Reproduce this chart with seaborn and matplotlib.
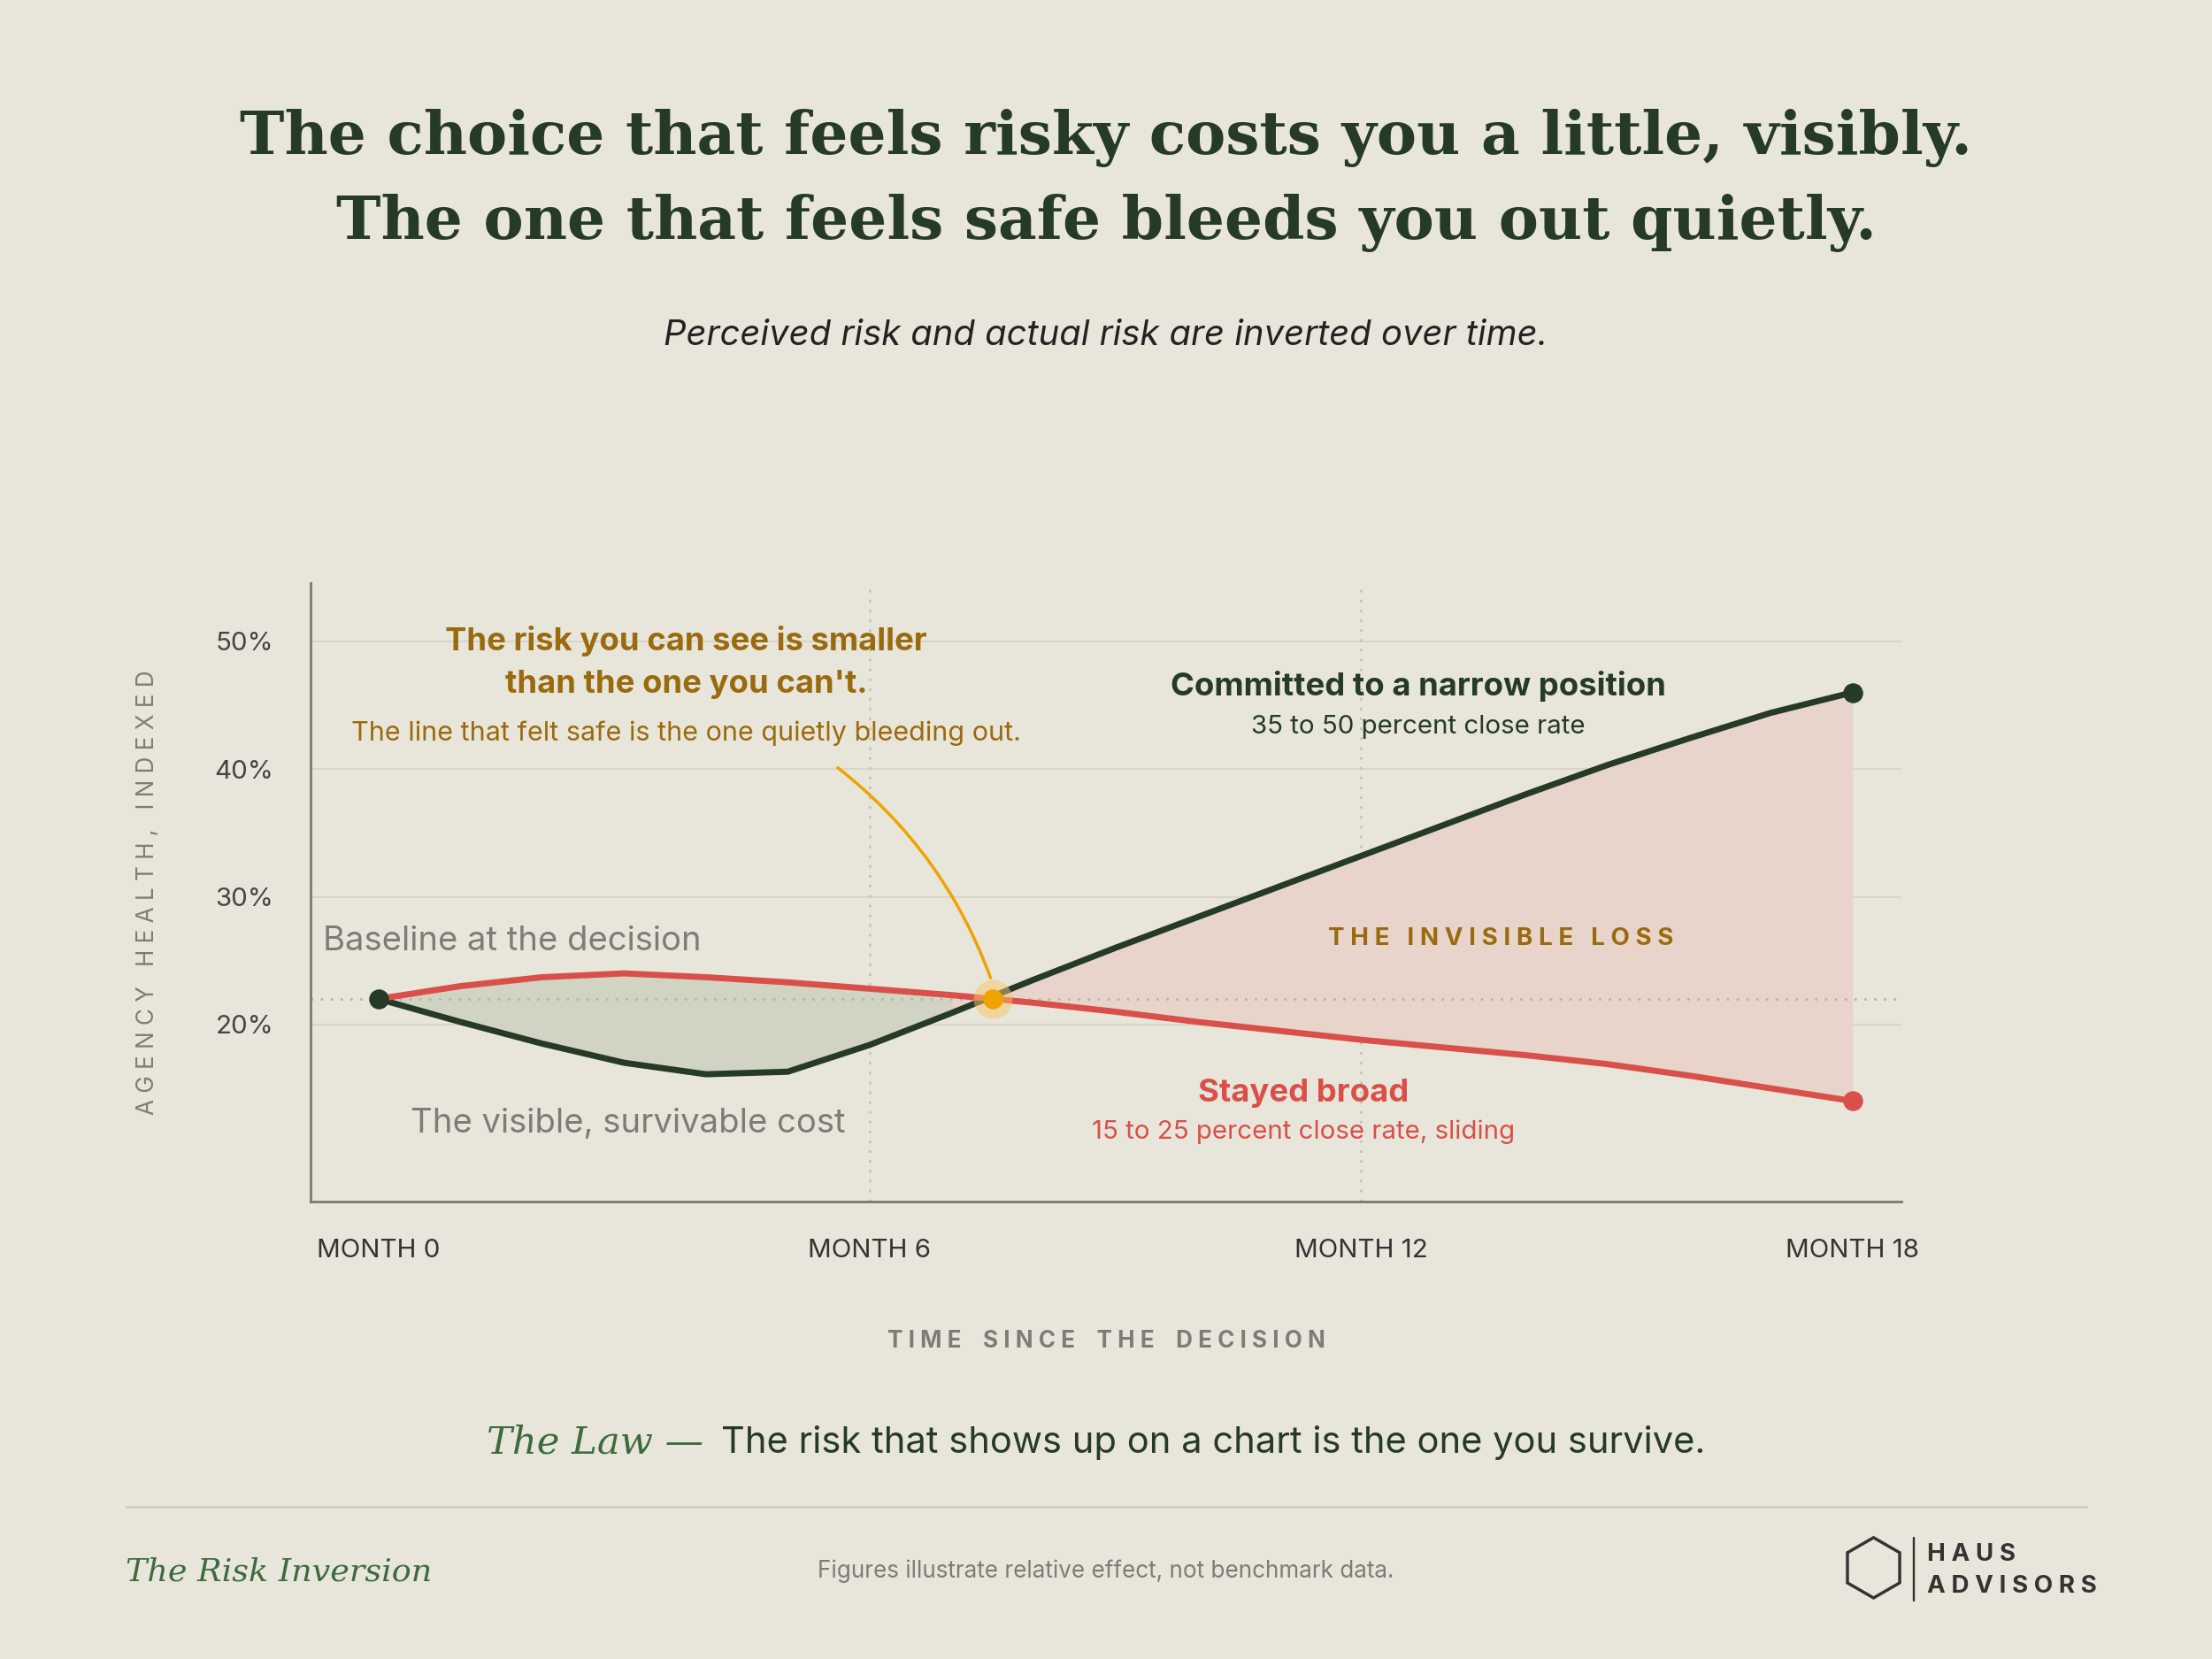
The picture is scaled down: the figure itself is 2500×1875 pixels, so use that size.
import numpy as np
import pandas as pd
import seaborn as sns
import matplotlib.pyplot as plt
from matplotlib.patches import RegularPolygon

months = list(range(19))
narrow = [22, 20.2, 18.5, 17.0, 16.1, 16.3, 18.4, 20.9, 23.5, 26.0, 28.4, 30.8, 33.2,
          35.6, 38.0, 40.3, 42.4, 44.4, 46.0]
broad = [22, 23.0, 23.7, 24.0, 23.7, 23.3, 22.8, 22.3, 21.7, 21.0, 20.2, 19.5, 18.8,
         18.2, 17.6, 16.9, 16.0, 15.0, 14.0]
tick_months = [0, 6, 12, 18]
tick_labels = ["MONTH 0", "MONTH 6", "MONTH 12", "MONTH 18"]
y_ticks = [20, 30, 40, 50]
baseline = 22
cross_month = 7.5

BG = "#e8e6da"
GREEN = "#263a28"
RED = "#d9504a"
GOLD = "#9a6a0e"
GREY = "#7d7d75"

sns.set_theme(style="white")
plt.rcParams['font.family'] = ['Inter', 'DejaVu Sans']


def spaced(s):
    return " ".join(s)


df = pd.DataFrame({"month": months * 2, "value": narrow + broad,
                   "series": ["narrow"] * 19 + ["broad"] * 19})

fig = plt.figure(figsize=(10, 7.5), dpi=250, facecolor=BG)
ax = fig.add_axes([0.1403, 0.2755, 0.7194, 0.3733])
ax.set_facecolor(BG)

m = np.array(months, dtype=float)
n = np.array(narrow)
b = np.array(broad)
ax.fill_between(m[m <= 8], n[m <= 8], b[m <= 8], where=m[m <= 8] <= cross_month,
                color="#d2d4c3", interpolate=True, lw=0)
ax.fill_between(m, n, b, where=m >= cross_month - 0.6, color="#e8d4ca", interpolate=True, lw=0)

for y in y_ticks:
    ax.axhline(y, color="#d8d6ca", lw=0.6, zorder=0)
for x in [6, 12]:
    ax.axvline(x, color="#c6c4b8", lw=0.8, ls=(0, (1, 3)), zorder=0)
ax.axhline(baseline, color="#b8b6aa", lw=0.8, ls=(0, (1, 3)), zorder=1)

sns.lineplot(data=df, x="month", y="value", hue="series", ax=ax,
             palette={"narrow": GREEN, "broad": RED}, lw=2.0, legend=False, zorder=3)
ax.scatter([0, 18], [baseline, narrow[-1]], color=GREEN, s=30, zorder=4)
ax.scatter([18], [broad[-1]], color=RED, s=30, zorder=4)
ax.scatter([cross_month], [baseline], color="#f5c66a", s=160, alpha=0.5, zorder=4, lw=0)
ax.scatter([cross_month], [baseline], color="#eea300", s=30, zorder=5)

ax.set_xlim(-0.83, 18.6)
ax.set_ylim(6.1, 54.6)
ax.set_xticks(tick_months)
ax.set_xticklabels(tick_labels, fontsize=8.5, color="#333")
ax.set_yticks(y_ticks)
ax.set_yticklabels([f"{v}%" for v in y_ticks], fontsize=8.5, color="#444")
ax.tick_params(length=0, pad=12)
for s in ["top", "right"]:
    ax.spines[s].set_visible(False)
for s in ["left", "bottom"]:
    ax.spines[s].set_color("#777")
    ax.spines[s].set_linewidth(0.8)
ax.set_xlabel(spaced("TIME SINCE THE DECISION").replace("   ", "    "), fontsize=7.5,
              color=GREY, labelpad=22, fontweight="bold")
ax.set_ylabel(spaced("AGENCY HEALTH, INDEXED"), fontsize=7.5, color=GREY, labelpad=18)

# annotations
ax.text(12.7, 46.5, "Committed to a narrow position", fontsize=10.5, fontweight="bold",
        color=GREEN, ha="center", va="center")
ax.text(12.7, 43.3, "35 to 50 percent close rate", fontsize=8.5, color=GREEN,
        ha="center", va="center")
ax.text(13.7, 26.7, spaced("THE INVISIBLE LOSS"), fontsize=8, fontweight="bold",
        color=GOLD, ha="center", va="center")
ax.text(11.3, 14.6, "Stayed broad", fontsize=10.5, fontweight="bold", color=RED,
        ha="center", va="center")
ax.text(11.3, 11.6, "15 to 25 percent close rate, sliding", fontsize=8.5, color=RED,
        ha="center", va="center")
ax.text(-0.68, 26.5, "Baseline at the decision", fontsize=11, color=GREY, va="center")
ax.text(3.05, 12.2, "The visible, survivable cost", fontsize=11, color=GREY,
        ha="center", va="center")
ax.text(3.76, 50.0, "The risk you can see is smaller", fontsize=10.5, fontweight="bold",
        color=GOLD, ha="center", va="center")
ax.text(3.76, 46.6, "than the one you can't.", fontsize=10.5, fontweight="bold",
        color=GOLD, ha="center", va="center")
ax.text(3.76, 42.8, "The line that felt safe is the one quietly bleeding out.", fontsize=8.8,
        color=GOLD, ha="center", va="center")
ax.annotate("", xy=(cross_month, 23.2), xytext=(5.55, 40.4),
            arrowprops=dict(arrowstyle="-", color="#eea300", lw=1.0,
                            connectionstyle="arc3,rad=-0.15"))

# titles
fig.text(0.5, 0.907, "The choice that feels risky costs you a little, visibly.", ha="center",
         fontsize=19.5, fontweight="bold", color=GREEN, family=["DejaVu Serif"])
fig.text(0.5, 0.856, "The one that feels safe bleeds you out quietly.", ha="center",
         fontsize=19.5, fontweight="bold", color=GREEN, family=["DejaVu Serif"])
fig.text(0.5, 0.792, "Perceived risk and actual risk are inverted over time.", ha="center",
         fontsize=11.5, style="italic", color="#222")

fig.text(0.318, 0.124, "The Law —", ha="right", fontsize=12.5, style="italic",
         color="#3d6b3d", family=["DejaVu Serif"])
fig.text(0.326, 0.124, "The risk that shows up on a chart is the one you survive.",
         fontsize=12, color=GREEN)
fig.add_artist(plt.Line2D([0.057, 0.943], [0.092, 0.092], color="#cfcdc1", lw=0.8))
fig.text(0.057, 0.047, "The Risk Inversion", fontsize=10.5, style="italic", color="#3d6b3d",
         family=["DejaVu Serif"])
fig.text(0.5, 0.049, "Figures illustrate relative effect, not benchmark data.", ha="center",
         fontsize=7.5, color=GREY)
logo_ax = fig.add_axes([0.832, 0.035, 0.03, 0.04])
logo_ax.set_aspect("equal")
logo_ax.add_patch(RegularPolygon((0, 0), 6, radius=1, fill=False, ec="#333", lw=1.0))
logo_ax.set_xlim(-1.1, 1.1)
logo_ax.set_ylim(-1.1, 1.1)
logo_ax.axis("off")
fig.add_artist(plt.Line2D([0.865, 0.865], [0.035, 0.073], color="#333", lw=0.7))
fig.text(0.871, 0.059, spaced("HAUS"), fontsize=8, fontweight="bold", color="#333")
fig.text(0.871, 0.040, spaced("ADVISORS"), fontsize=8, fontweight="bold", color="#333")

fig.savefig("out.png", facecolor=BG)
